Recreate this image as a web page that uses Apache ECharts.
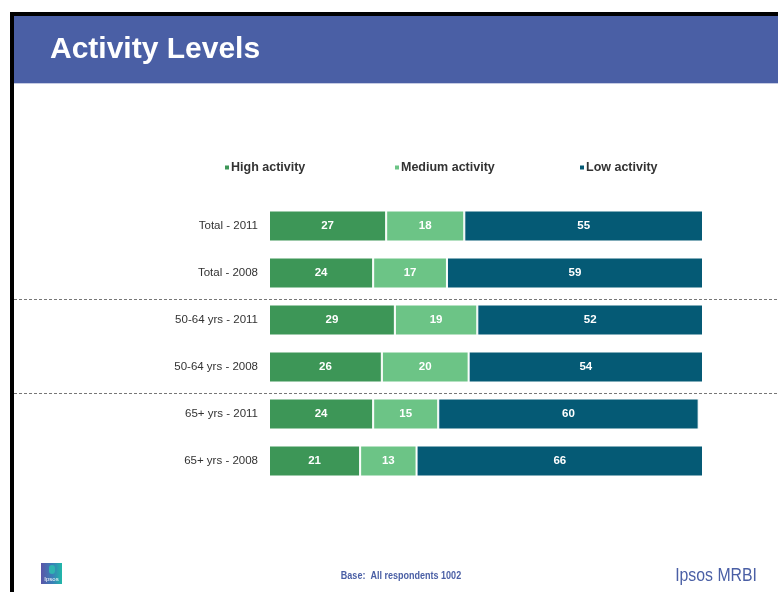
<!DOCTYPE html>
<html><head><meta charset="utf-8">
<script src="https://cdn.jsdelivr.net/npm/echarts@6/dist/echarts.min.js"></script>
<style>html,body{margin:0;padding:0;background:#fff}#c{width:778px;height:592px}</style>
</head><body><div id="c"></div>
<script>
const categories = ['Total - 2011','Total - 2008','50-64 yrs - 2011','50-64 yrs - 2008','65+ yrs - 2011','65+ yrs - 2008'];
const seriesNames = ['High activity','Medium activity','Low activity'];
const highActivity = [27,24,29,26,24,21];
const mediumActivity = [18,17,19,20,15,13];
const lowActivity = [55,59,52,54,60,66];
const colors = ['#3d9657','#6cc486','#055a75'];
const sans = '"Liberation Sans", Arial, sans-serif';

const chart = echarts.init(document.getElementById('c'));
const data = [highActivity, mediumActivity, lowActivity];
const legendLeft = [223, 393, 578];
const option = {
  animation:false,
  backgroundColor:'#fff',
  legend: seriesNames.map((n,i)=>({
    top:161, left:legendLeft[i], itemWidth:6, itemHeight:6, icon:'rect', padding:0,
    textStyle:{fontFamily:sans, fontWeight:'bold', fontSize:12.5, color:'#333', padding:[0,0,0,-4]},
    data:[n]
  })),
  grid:{left:269, right:75, top:202.5, bottom:107.5},
  xAxis:{type:'value', min:0, max:100, show:false},
  yAxis:{type:'category', data:categories, inverse:true,
    axisLine:{show:false}, axisTick:{show:false},
    axisLabel:{margin:11, fontFamily:sans, fontSize:11.5, color:'#333'}},
  series: seriesNames.map((n,i)=>({
    name:n, type:'bar', stack:'s', barWidth:31, data:data[i],
    itemStyle:{color:colors[i], borderColor:'#fff', borderWidth:1},
    label:{show:true, position:'inside', color:'#fff', fontWeight:'bold', fontSize:11.5, fontFamily:sans}
  }))
};
chart.setOption(option);

const y1 = (chart.convertToPixel({yAxisIndex:0}, categories[1]) + chart.convertToPixel({yAxisIndex:0}, categories[2]))/2 + 2.5;
const y2 = (chart.convertToPixel({yAxisIndex:0}, categories[3]) + chart.convertToPixel({yAxisIndex:0}, categories[4]))/2 + 2.5;

chart.setOption({graphic:[
  {type:'rect', shape:{x:10,y:12,width:768,height:4}, style:{fill:'#000'}},
  {type:'rect', shape:{x:10,y:12,width:4,height:580}, style:{fill:'#000'}},
  {type:'rect', shape:{x:14,y:16,width:764,height:67}, style:{fill:'#4a5fa5'}},
  {type:'rect', shape:{x:14,y:83,width:764,height:1}, style:{fill:'#c5cbe3'}},
  {type:'text', x:50, y:50, style:{text:'Activity Levels', fill:'#fff', font:'bold 30px '+sans, verticalAlign:'middle'}},
  {type:'line', shape:{x1:14,y1:Math.round(y1)+0.5,x2:778,y2:Math.round(y1)+0.5}, style:{stroke:'#777', lineWidth:1, lineDash:[3,2]}},
  {type:'line', shape:{x1:14,y1:Math.round(y2)+0.5,x2:778,y2:Math.round(y2)+0.5}, style:{stroke:'#777', lineWidth:1, lineDash:[3,2]}},
  {type:'rect', shape:{x:41,y:563,width:21,height:21}, style:{fill:new echarts.graphic.LinearGradient(0,0,1,0,[{offset:0,color:'#5a55a8'},{offset:0.55,color:'#3a7fb8'},{offset:1,color:'#20b8a8'}])}},
  {type:'rect', shape:{x:49,y:565,width:6,height:9,r:3}, style:{fill:'#2fb5b0'}},
  {type:'text', x:51.5, y:579, style:{text:'Ipsos', fill:'#fff', font:'6px '+sans, align:'center', verticalAlign:'middle'}},
  {type:'text', x:401, y:576, scaleX:0.82, style:{text:'Base:  All respondents 1002', fill:'#4a5fa5', font:'bold 11px '+sans, align:'center', verticalAlign:'middle'}},
  {type:'text', x:757, y:576, scaleX:0.88, style:{text:'Ipsos MRBI', fill:'#4a5fa5', font:'18px '+sans, align:'right', verticalAlign:'middle'}}
]});
</script></body></html>
